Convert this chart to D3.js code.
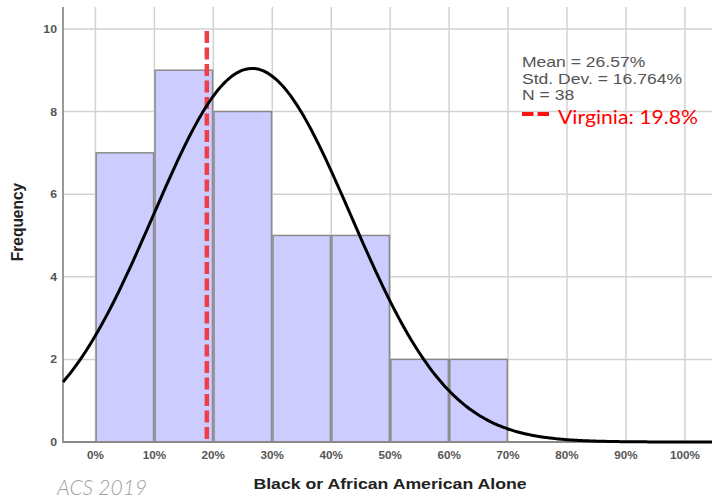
<!DOCTYPE html>
<html>
<head>
<meta charset="utf-8">
<script src="https://cdn.jsdelivr.net/npm/d3@7"></script>
<style>
    html, body { margin: 0; padding: 0; background: #fff; }
    svg { display: block; }
</style>
</head>
<body>
<div id="chart"></div>
<script>
// histogram bins (percent) and frequencies
const binStarts = [0, 10, 20, 30, 40, 50, 60];
const binWidth = 10;
const counts = [7, 9, 8, 5, 5, 2, 2];

const xTicks = [0, 10, 20, 30, 40, 50, 60, 70, 80, 90, 100];
const yTicks = [0, 2, 4, 6, 8, 10];

// fitted normal stats shown in the legend
const meanPct = 26.57;
const sdPct = 16.764;
const nCount = 38;

// Virginia reference line
const virginiaPct = 19.8;
const virginiaLineAt = 18.9;   // where the dashed line sits in the picture

const width = 712, height = 499;
const plotLeft = 63, plotRight = 712, plotTop = 7, plotBottom = 442;
const textStretch = 1.17;

const x = d3.scaleLinear().domain([-5.5, 104.6]).range([plotLeft, plotRight]);
const y = d3.scaleLinear().domain([0, 10.53]).range([plotBottom, plotTop]);

const svg = d3.select("#chart").append("svg")
    .attr("width", width)
    .attr("height", height);

// grid
svg.append("g").selectAll("line")
    .data(xTicks)
    .join("line")
    .attr("x1", d => x(d)).attr("x2", d => x(d))
    .attr("y1", plotTop).attr("y2", plotBottom)
    .attr("stroke", "#d2d2d2").attr("stroke-width", 1.5);

svg.append("g").selectAll("line")
    .data(yTicks.filter(d => d > 0))
    .join("line")
    .attr("x1", plotLeft).attr("x2", plotRight)
    .attr("y1", d => y(d)).attr("y2", d => y(d))
    .attr("stroke", "#d2d2d2").attr("stroke-width", 1.5);

// bars
svg.append("g").selectAll("rect")
    .data(counts)
    .join("rect")
    .attr("x", (d, i) => x(binStarts[i]) + 0.75)
    .attr("width", (d, i) => x(binStarts[i] + binWidth) - x(binStarts[i]) - 1.5)
    .attr("y", d => y(d))
    .attr("height", d => y(0) - y(d))
    .attr("fill", "#ccccff")
    .attr("stroke", "#8a8a8a")
    .attr("stroke-width", 1.5);

// axes lines
svg.append("line")
    .attr("x1", plotLeft).attr("x2", plotLeft)
    .attr("y1", plotTop).attr("y2", plotBottom + 1)
    .attr("stroke", "#9a9a9a").attr("stroke-width", 2);
svg.append("line")
    .attr("x1", plotLeft).attr("x2", plotRight)
    .attr("y1", plotBottom).attr("y2", plotBottom)
    .attr("stroke", "#8a8a8a").attr("stroke-width", 2);

// Virginia dashed line
svg.append("line")
    .attr("x1", x(virginiaLineAt)).attr("x2", x(virginiaLineAt))
    .attr("y1", y(10) + 2).attr("y2", plotBottom)
    .attr("stroke", "#ef3e4a")
    .attr("stroke-width", 4.5)
    .attr("stroke-dasharray", "12,4.5");

// normal curve scaled to counts
const peak = nCount * binWidth / (sdPct * Math.sqrt(2 * Math.PI));
const normal = v => peak * Math.exp(-0.5 * Math.pow((v - meanPct) / sdPct, 2));
const curvePts = d3.range(x.domain()[0], x.domain()[1] + 0.5, 0.5);

svg.append("path")
    .datum(curvePts)
    .attr("fill", "none")
    .attr("stroke", "#000")
    .attr("stroke-width", 3)
    .attr("d", d3.line().x(d => x(d)).y(d => y(normal(d))).curve(d3.curveBasis));

// tick labels
svg.append("g").selectAll("text")
    .data(xTicks)
    .join("text")
    .attr("transform", d => `translate(${x(d)},459) scale(${textStretch},1)`)
    .attr("text-anchor", "middle")
    .attr("font-family", "Liberation Sans, Arial, sans-serif")
    .attr("font-weight", "bold")
    .attr("font-size", 10)
    .attr("fill", "#555")
    .text(d => d + "%");

svg.append("g").selectAll("text")
    .data(yTicks)
    .join("text")
    .attr("transform", d => `translate(57,${y(d) + 4}) scale(${textStretch},1)`)
    .attr("text-anchor", "end")
    .attr("font-family", "Liberation Sans, Arial, sans-serif")
    .attr("font-weight", "bold")
    .attr("font-size", 10.5)
    .attr("fill", "#555")
    .text(d => d);

// axis titles
svg.append("text")
    .attr("transform", `translate(390,489) scale(${textStretch + 0.01},1)`)
    .attr("text-anchor", "middle")
    .attr("font-family", "Liberation Sans, Arial, sans-serif")
    .attr("font-weight", "bold")
    .attr("font-size", 15)
    .attr("fill", "#222")
    .text("Black or African American Alone");

svg.append("text")
    .attr("transform", "translate(23,222) rotate(-90) scale(1,1.1)")
    .attr("text-anchor", "middle")
    .attr("font-family", "Liberation Sans, Arial, sans-serif")
    .attr("font-weight", "bold")
    .attr("font-size", 15.5)
    .attr("fill", "#222")
    .text("Frequency");

// stats legend
const statLines = [
    "Mean = " + meanPct + "%",
    "Std. Dev. = " + sdPct + "%",
    "N = " + nCount
];
svg.append("g").selectAll("text")
    .data(statLines)
    .join("text")
    .attr("transform", (d, i) => `translate(522,${67.3 + i * 16.5}) scale(${textStretch},1)`)
    .attr("font-family", "Liberation Sans, Arial, sans-serif")
    .attr("font-size", 15)
    .attr("fill", "#555")
    .text(d => d);

// Virginia legend
const vLegend = svg.append("g");
vLegend.selectAll("line")
    .data([0, 1])
    .join("line")
    .attr("x1", d => 522 + d * 15.5).attr("x2", d => 522 + d * 15.5 + 11.5)
    .attr("y1", 114).attr("y2", 114)
    .attr("stroke", "#ff1010").attr("stroke-width", 4);
vLegend.append("text")
    .attr("transform", "translate(558,123.5) scale(1.06,1)")
    .attr("font-family", "Lato, Noto Sans, sans-serif")
    .attr("font-weight", 400)
    .attr("font-size", 20)
    .attr("fill", "#ff0000")
    .text("Virginia: " + virginiaPct + "%");

// source note
svg.append("text")
    .attr("x", 57).attr("y", 495)
    .attr("font-family", "Lato, Noto Sans, sans-serif")
    .attr("font-weight", 300)
    .attr("font-style", "italic")
    .attr("font-size", 21)
    .attr("fill", "#a0a0a0")
    .text("ACS 2019");
</script>
</body>
</html>
